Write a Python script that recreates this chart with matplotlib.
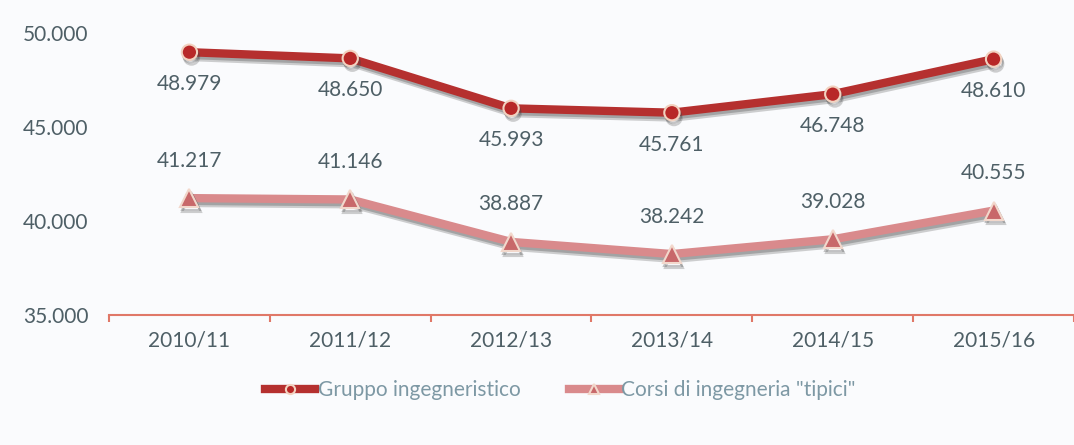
import numpy as np
import matplotlib.pyplot as plt
import matplotlib.patheffects as pe
from matplotlib.ticker import FixedLocator, FuncFormatter

### Data
years = ['2010/11', '2011/12', '2012/13', '2013/14', '2014/15', '2015/16']
gruppo = [48979, 48650, 45993, 45761, 46748, 48610]
tipici = [41217, 41146, 38887, 38242, 39028, 40555]
y_ticks = [35000, 40000, 45000, 50000]

def fmt(v):
    # Italian thousands separator
    return '{:,}'.format(int(v)).replace(',', '.')

### Style
plt.rcParams['font.family'] = ['Lato', 'DejaVu Sans']
red = '#b5302f'
pink = '#d98a8c'
txt = '#4e5f66'
bg = '#fafbfd'

fig = plt.figure(figsize=(10.74, 4.45), dpi=100, facecolor=bg)
ax = fig.add_axes([109/1074, 1 - 315/445, 1 - 109/1074, (315 - 33)/445])
ax.set_facecolor(bg)

x = np.arange(len(years))
shadow = [pe.SimpleLineShadow(offset=(1.5, -3.5), shadow_color='#444444', alpha=0.25, rho=0.3),
          pe.SimpleLineShadow(offset=(1, -2), shadow_color='#444444', alpha=0.3, rho=0.3),
          pe.Normal()]

ax.plot(x, gruppo, color=red, lw=6, marker='o', ms=11, mfc='#b82828',
        mec='#f2d2c0', mew=1.5, path_effects=shadow, label='Gruppo ingegneristico', zorder=3)
ax.plot(x, tipici, color=pink, lw=6, marker='^', ms=13, mfc='#c8686a',
        mec='#f2d8cc', mew=1.5, path_effects=shadow, label='Corsi di ingegneria "tipici"', zorder=3)

for i in range(len(years)):
    ax.annotate(fmt(gruppo[i]), (x[i], gruppo[i]), xytext=(0, -23), textcoords='offset points',
                ha='center', va='center', fontsize=15, color=txt)
    ax.annotate(fmt(tipici[i]), (x[i], tipici[i]), xytext=(0, 27), textcoords='offset points',
                ha='center', va='center', fontsize=15, color=txt)

ax.set_xlim(-0.5, len(years) - 0.5)
ax.set_ylim(35000, 50000)
ax.set_xticks(x)
ax.set_xticklabels(years)
ax.xaxis.set_minor_locator(FixedLocator(np.arange(-0.5, len(years), 1)))
ax.set_yticks(y_ticks)
ax.yaxis.set_major_formatter(FuncFormatter(lambda v, p: fmt(v)))

for s in ['top', 'right', 'left']:
    ax.spines[s].set_visible(False)
ax.spines['bottom'].set_color('#e07868')
ax.spines['bottom'].set_linewidth(1.5)
ax.tick_params(axis='x', which='major', length=0, pad=11, labelsize=15, labelcolor=txt)
ax.tick_params(axis='x', which='minor', length=5, width=1.5, color='#e07868')
ax.tick_params(axis='y', length=0, pad=15, labelsize=15, labelcolor=txt)

leg = fig.legend(loc='center', bbox_to_anchor=(0.522, 1 - 390/445), ncol=2, frameon=False,
                 fontsize=15, handlelength=2.4, handletextpad=0.1, columnspacing=2.35,
                 markerscale=0.6)
for t in leg.get_texts():
    t.set_color('#7d98a4')
for h in leg.legend_handles:
    h.set_path_effects([])

fig.savefig('out.png', dpi=100, facecolor=bg)
